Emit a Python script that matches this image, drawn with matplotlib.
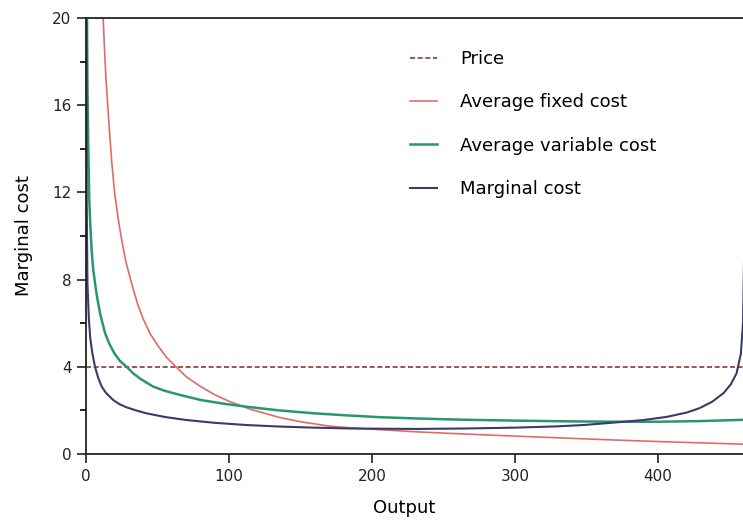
import matplotlib
matplotlib.use("Agg")
import matplotlib.pyplot as plt
from matplotlib.ticker import MultipleLocator

plt.rcParams['font.family'] = ['DejaVu Sans']

# Data
price_q = [0, 460]
price_v = [4, 4]

afc_q = [11, 12, 13, 14, 16, 18, 20, 22.5, 25, 28, 32, 36, 40, 45, 50, 56, 63, 70, 80, 90, 100,
         115, 135, 150, 170, 185, 205, 230, 260, 300, 335, 370, 410, 460]
afc_v = [21.8, 20, 18.5, 17.2, 15.2, 13.4, 12.0, 10.8, 9.8, 8.8, 7.8, 6.9, 6.2, 5.5, 5.0, 4.45, 4.0, 3.55, 3.1, 2.72, 2.42,
         2.05, 1.68, 1.48, 1.28, 1.2, 1.12, 1.02, 0.93, 0.82, 0.73, 0.64, 0.55, 0.45]

avc_q = [0.5, 1, 1.6, 2.3, 3, 4, 5, 6.3, 8, 10, 13.3, 16, 20, 24, 28.4, 33, 38, 47, 55, 65.7, 80, 95,
         112, 135, 159, 180, 205, 231, 265, 301, 335, 371, 400, 430, 460]
avc_v = [22, 17, 14, 11.65, 10.5, 9.3, 8.5, 7.84, 7.1, 6.4, 5.55, 5.1, 4.6, 4.25, 4.0, 3.7, 3.45, 3.09, 2.9, 2.71, 2.48, 2.32,
         2.17, 2.0, 1.87, 1.78, 1.69, 1.63, 1.57, 1.53, 1.5, 1.48, 1.48, 1.51, 1.57]

mc_q = [0.2, 0.5, 1, 2, 3, 4.5, 6.3, 8.5, 11, 14, 19, 23, 28, 35, 42, 55, 70, 90, 112, 135, 159, 185,
        205, 231, 265, 301, 330, 348, 371, 390, 406, 420, 429, 438, 446, 451, 455, 458, 459.5, 461]
mc_v = [24, 11.65, 7.84, 6.2, 5.3, 4.6, 4.0, 3.5, 3.09, 2.8, 2.48, 2.3, 2.15, 2.0, 1.87, 1.7, 1.56, 1.43, 1.33, 1.26, 1.21, 1.17,
        1.16, 1.15, 1.17, 1.21, 1.27, 1.33, 1.45, 1.56, 1.70, 1.9, 2.1, 2.4, 2.8, 3.2, 3.7, 4.6, 6, 12]

fig = plt.figure(figsize=(7.43, 5.22), dpi=100)
ax = fig.add_axes([86/743, 1 - 454/522, 1 - 86/743, (454 - 18)/522])

ax.plot(price_q, price_v, color='#8b3a2e', lw=1.2, ls=(0, (3, 1.6)), label='Price')
ax.plot(afc_q, afc_v, color='#e06a6a', lw=1.2, label='Average fixed cost')
ax.plot(avc_q, avc_v, color='#2a9670', lw=1.8, label='Average variable cost')
ax.plot(mc_q, mc_v, color='#3c3a66', lw=1.5, label='Marginal cost')

ax.set_xlim(0, 459.5)
ax.set_ylim(0, 20)
ax.xaxis.set_major_locator(MultipleLocator(100))
ax.yaxis.set_major_locator(MultipleLocator(4))
ax.yaxis.set_minor_locator(MultipleLocator(2))
ax.tick_params(axis='both', which='major', direction='out', length=6.5, width=1.2, labelsize=11, colors='#222222', pad=4)
ax.tick_params(axis='y', which='minor', direction='out', length=4.3, width=1.2)
for s in ['left', 'bottom', 'top']:
    ax.spines[s].set_linewidth(1.3)
    ax.spines[s].set_color('#222222')
ax.spines['right'].set_visible(False)

ax.set_xlabel('Output', fontsize=13)
ax.xaxis.set_label_coords((404 - 86) / 657, -(499 - 454) / 436)
ax.set_ylabel('Marginal cost', fontsize=13)
ax.yaxis.set_label_coords(-(86 - 33) / 657, 0.5)

leg = ax.legend(loc='upper left', bbox_to_anchor=((410 - 86) / 657, (454 - 50) / 436), frameon=False, fontsize=13,
                handlelength=1.5, handletextpad=1.28, labelspacing=1.4, borderpad=0, borderaxespad=0)

fig.savefig('out.png', dpi=100)
